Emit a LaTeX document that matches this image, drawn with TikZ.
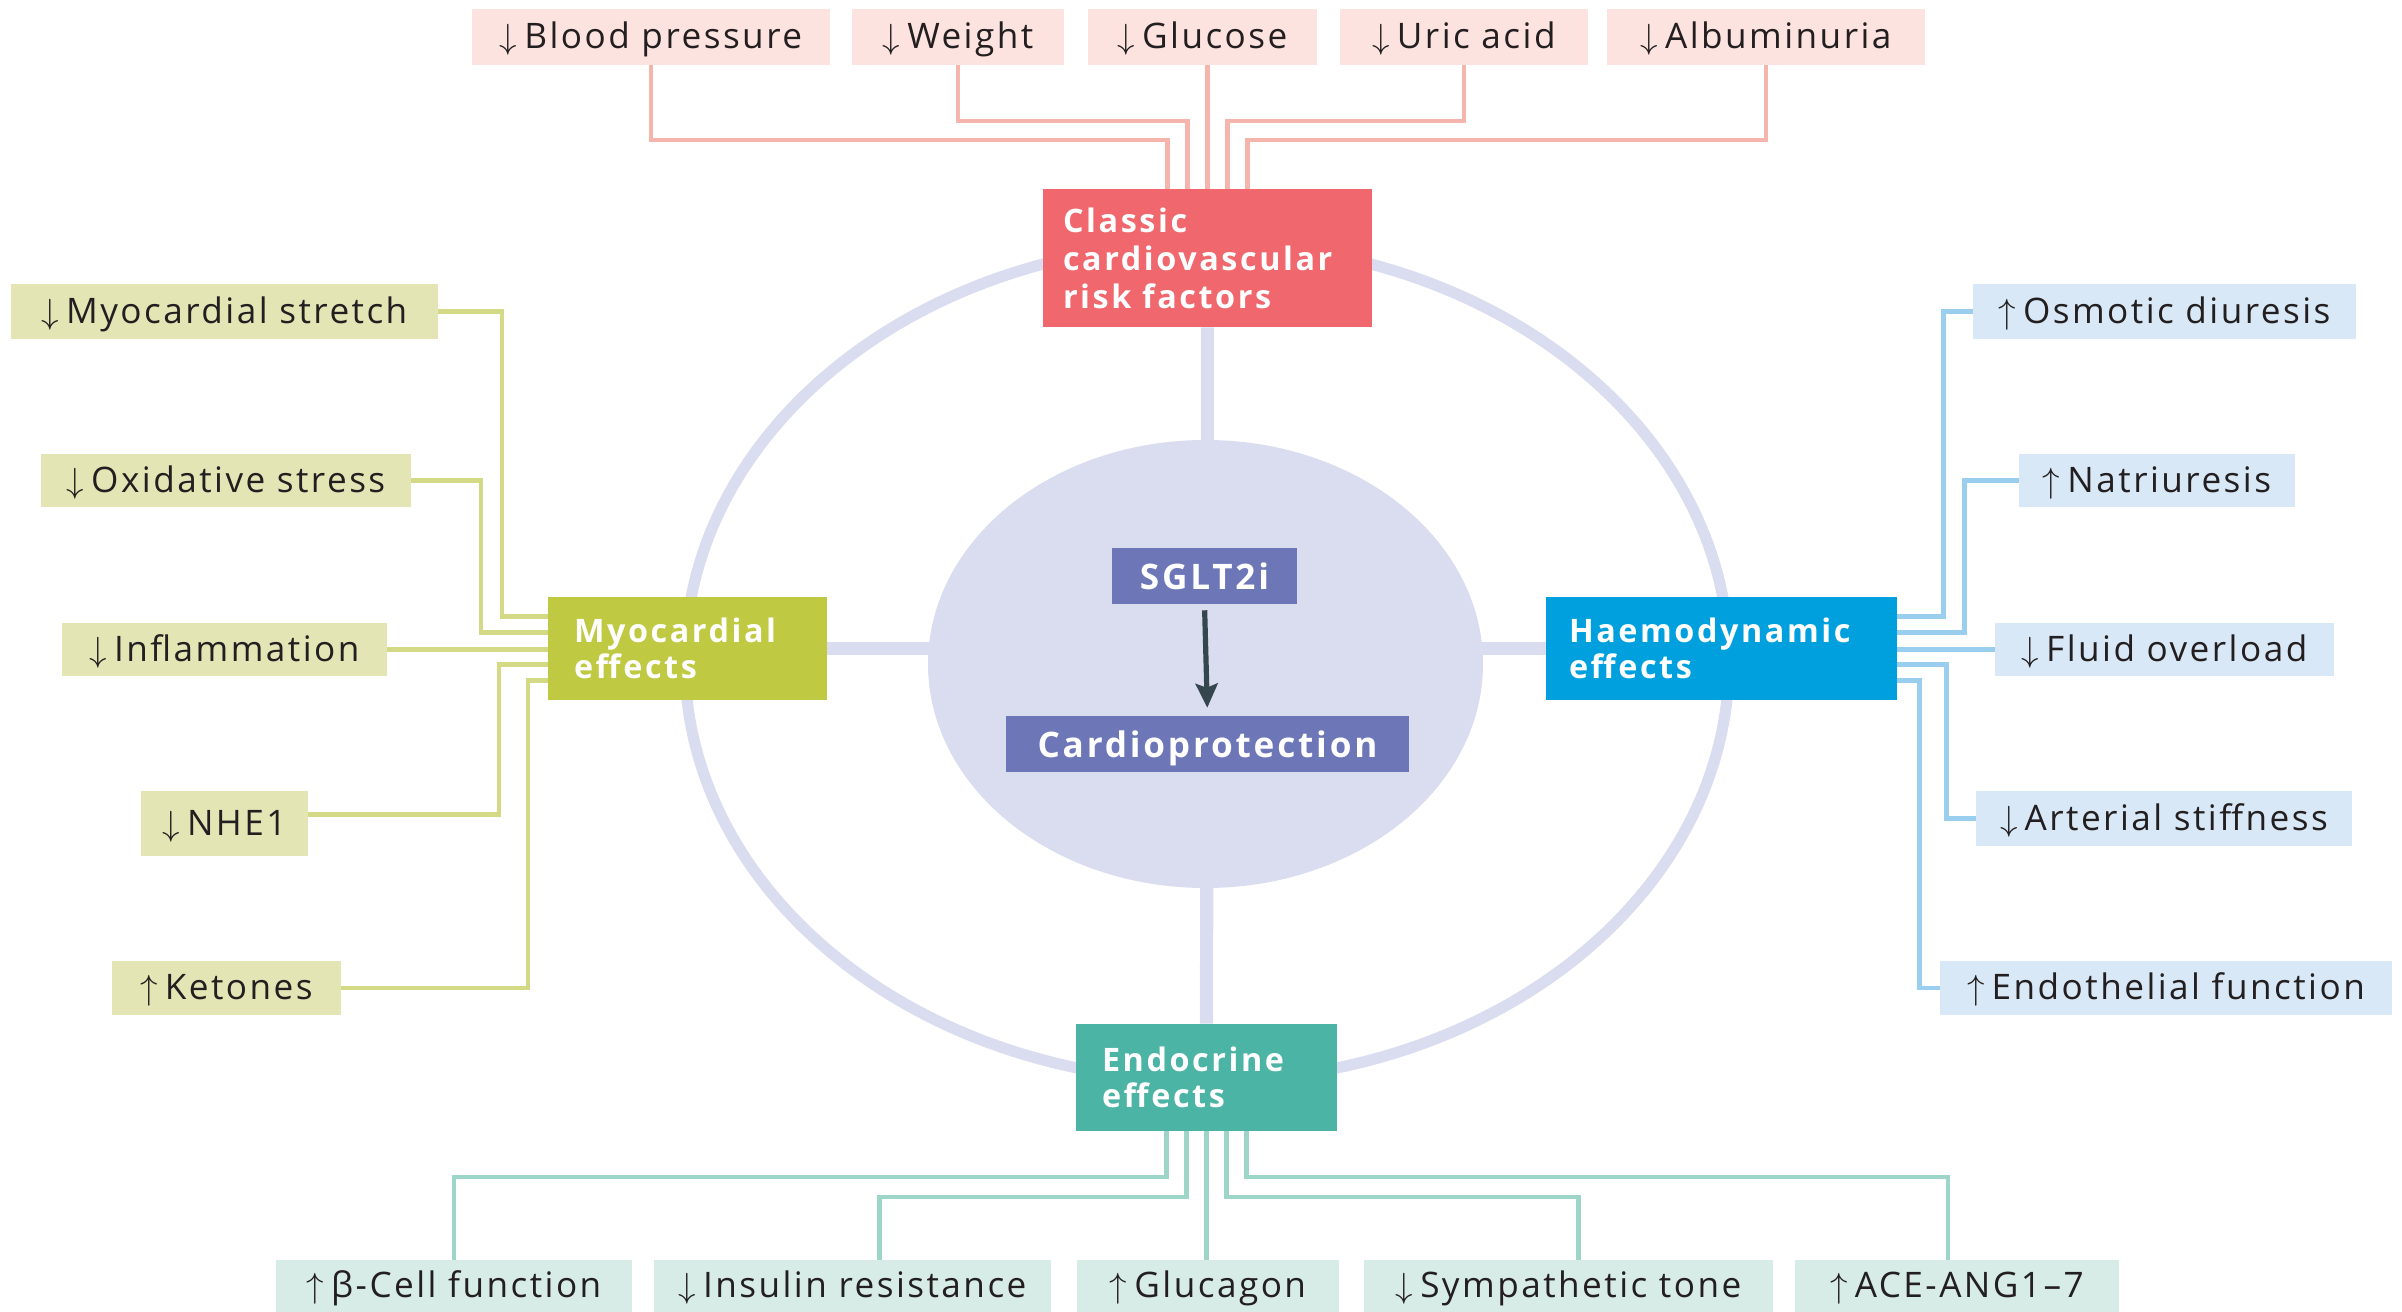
\documentclass[tikz,border=0pt]{standalone}
\usepackage{fontspec}
\setmainfont{Open Sans}[LetterSpace=7]
\newfontfamily\hdrfont{Open Sans}[LetterSpace=8]
\usetikzlibrary{arrows.meta,calc,shapes.geometric}
\definecolor{clsred}{HTML}{F0686D}
\definecolor{redfill}{HTML}{FDE3DF}
\definecolor{redline}{HTML}{F5B5AD}
\definecolor{myogrn}{HTML}{BFC942}
\definecolor{grnfill}{HTML}{E3E5B5}
\definecolor{grnline}{HTML}{D4D986}
\definecolor{haeblue}{HTML}{00A0DE}
\definecolor{blufill}{HTML}{D8E8F6}
\definecolor{bluline}{HTML}{9ACEEE}
\definecolor{endoteal}{HTML}{4BB4A5}
\definecolor{tealfill}{HTML}{D7ECE6}
\definecolor{tealline}{HTML}{9ED5C9}
\definecolor{sglpurple}{HTML}{6D77B8}
\definecolor{discol}{HTML}{DADCEF}
\definecolor{arrowc}{HTML}{36464F}
\definecolor{txtdark}{HTML}{231F20}
\newcommand{\lblfont}{\fontsize{25}{28}\selectfont}
\newcommand{\hdrsize}{\hdrfont\bfseries\fontsize{23}{25.5}\selectfont}
\newcommand{\clssize}{\hdrfont\bfseries\fontsize{23}{27}\selectfont}
\newcommand{\mkbox}[7]{%
  \pgfmathsetmacro\myBW{(#5-#3)*0.25}%
  \pgfmathsetmacro\myBH{(#6-#4)*0.25}%
  \node[#1, minimum width=\myBW mm, minimum height=\myBH mm] (#2) at ({(#3+#5)/2},{(#4+#6)/2}) {#7};}
\newcommand{\mkhdr}[8]{%
  \pgfmathsetmacro\myBW{(#5-#3-2*#7)*0.25}%
  \pgfmathsetmacro\myBH{(#6-#4)*0.25}%
  \pgfmathsetmacro\myPD{#7*0.25}%
  \node[#1, text width=\myBW mm, inner xsep=\myPD mm, minimum height=\myBH mm] (#2) at ({(#3+#5)/2},{(#4+#6)/2}) {#8};}
\newcommand{\dn}{{\fontsize{28}{30}\selectfont$\downarrow$}\hspace{0.2em}}
\newcommand{\upa}{{\fontsize{28}{30}\selectfont$\uparrow$}\hspace{0.2em}}
\begin{document}
\begin{tikzpicture}[x=0.25mm,y=-0.25mm,
  lbl/.style={inner sep=0pt, font=\lblfont, text=txtdark, text height=17pt, text depth=0pt},
  toplbl/.style={lbl, fill=redfill},
  grnlbl/.style={lbl, fill=grnfill},
  blulbl/.style={lbl, fill=blufill},
  teallbl/.style={lbl, fill=tealfill},
  hdr/.style={inner ysep=0pt, align=left, text=white, font=\hdrsize},
  cnct/.style={line width=1.1mm},
  redln/.style={cnct, draw=redline},
  grnln/.style={cnct, draw=grnline},
  bluln/.style={cnct, draw=bluline},
  tealln/.style={cnct, draw=tealline},
  spoke/.style={line width=3.3mm, draw=discol},
  core/.style={inner sep=0pt, fill=sglpurple, text=white, font=\hdrfont\bfseries\fontsize{25}{28}\selectfont, text height=19pt, text depth=0pt}
]
\useasboundingbox (0,0) rectangle (2402,1312);
% outer ring
\draw[discol, line width=2.8mm] (1207,662) ellipse [x radius=130.5mm, y radius=104.75mm];
% header box positions (drawn once first so the spokes can refer to them)
\mkhdr{hdr, fill=clsred, font=\clssize}{classic}{1043}{189}{1372}{327}{20}{Classic\\cardiovascular\\risk factors}
\mkhdr{hdr, fill=myogrn}{myo}{548}{597}{827}{700}{26}{Myocardial\\effects}
\mkhdr{hdr, fill=haeblue}{hae}{1546}{597}{1897}{700}{23}{Haemodynamic\\effects}
\mkhdr{hdr, fill=endoteal}{endo}{1076}{1024}{1337}{1131}{26}{Endocrine\\effects}
% spokes
\draw[spoke] (classic.south) -- (endo.north);
\draw[spoke] (myo.east) -- (hae.west);
% central disc
\node[ellipse, fill=discol, inner sep=0pt, minimum width=138.75mm, minimum height=112mm] (disc) at (1205.5,664) {};
\mkbox{core}{sglt}{1112}{548}{1297}{604}{SGLT2i}
\mkbox{core}{cardio}{1006}{716}{1409}{772}{Cardioprotection}
\draw[draw=arrowc, line width=1.3mm, -{Stealth[length=6mm,width=5.5mm,inset=1mm]}, shorten <=1.5mm, shorten >=2mm] (sglt.south) -- (cardio.north);
% top labels
\mkbox{toplbl}{tBP}{472}{9}{830}{65}{\dn Blood pressure}
\mkbox{toplbl}{tW}{852}{9}{1064}{65}{\dn Weight}
\mkbox{toplbl}{tG}{1088}{9}{1317}{65}{\dn Glucose}
\mkbox{toplbl}{tU}{1340}{9}{1588}{65}{\dn Uric acid}
\mkbox{toplbl}{tA}{1607}{9}{1925}{65}{\dn Albuminuria}
% left labels
\mkbox{grnlbl}{stretch}{11}{284}{438}{339}{\dn Myocardial stretch}
\mkbox{grnlbl}{oxid}{41}{454}{411}{507}{\dn Oxidative stress}
\mkbox{grnlbl}{infl}{62}{623}{387}{676}{\dn Inflammation}
\mkbox{grnlbl}{nhe}{141}{791}{308}{856}{\dn NHE1}
\mkbox{grnlbl}{ket}{112}{961}{341}{1015}{\upa Ketones}
% right labels
\mkbox{blulbl}{osm}{1973}{284}{2356}{339}{\upa Osmotic diuresis}
\mkbox{blulbl}{nat}{2019}{454}{2295}{507}{\upa Natriuresis}
\mkbox{blulbl}{flu}{1995}{623}{2334}{676}{\dn Fluid overload}
\mkbox{blulbl}{art}{1976}{791}{2352}{846}{\dn Arterial stiffness}
\mkbox{blulbl}{endoth}{1940}{961}{2392}{1015}{\upa Endothelial function}
% bottom labels
\mkbox{teallbl}{bcell}{276}{1260}{632}{1312}{\upa β-Cell function}
\mkbox{teallbl}{ins}{654}{1260}{1051}{1312}{\dn Insulin resistance}
\mkbox{teallbl}{glu}{1077}{1260}{1339}{1312}{\upa Glucagon}
\mkbox{teallbl}{symp}{1364}{1260}{1773}{1312}{\dn Sympathetic tone}
\mkbox{teallbl}{ace}{1795}{1260}{2119}{1312}{\upa ACE-ANG1–7}
% top connectors
\draw[redln] (tBP.south) |- ($(classic.north)+(-40,-49)$) -- ($(classic.north)+(-40,0)$);
\draw[redln] (tW.south) |- ($(classic.north)+(-20,-68)$) -- ($(classic.north)+(-20,0)$);
\draw[redln] (classic.north) -- (classic.north |- tG.south);
\draw[redln] (tU.south) |- ($(classic.north)+(20,-68)$) -- ($(classic.north)+(20,0)$);
\draw[redln] (tA.south) |- ($(classic.north)+(40,-49)$) -- ($(classic.north)+(40,0)$);
% left connectors
\draw[grnln] (stretch.east) -| ($(myo.west)+(-46,-32)$) -- ($(myo.west)+(0,-32)$);
\draw[grnln] (oxid.east) -| ($(myo.west)+(-67,-16)$) -- ($(myo.west)+(0,-16)$);
\draw[grnln] (infl.east) -- (infl.east -| myo.west);
\draw[grnln] ($(nhe.east)+(0,-9)$) -| ($(myo.west)+(-49,16)$) -- ($(myo.west)+(0,16)$);
\draw[grnln] (ket.east) -| ($(myo.west)+(-20,32)$) -- ($(myo.west)+(0,32)$);
% right connectors
\draw[bluln] (osm.west) -| ($(hae.east)+(46,-32)$) -- ($(hae.east)+(0,-32)$);
\draw[bluln] (nat.west) -| ($(hae.east)+(67,-16)$) -- ($(hae.east)+(0,-16)$);
\draw[bluln] (flu.west) -- (flu.west -| hae.east);
\draw[bluln] (art.west) -| ($(hae.east)+(49,16)$) -- ($(hae.east)+(0,16)$);
\draw[bluln] (endoth.west) -| ($(hae.east)+(22,32)$) -- ($(hae.east)+(0,32)$);
% bottom connectors
\draw[tealln] ($(endo.south)+(-40,0)$) -- ($(endo.south)+(-40,46)$) -| (bcell.north);
\draw[tealln] ($(endo.south)+(-20,0)$) -- ($(endo.south)+(-20,66)$) -| ($(ins.north)+(27,0)$);
\draw[tealln] (endo.south) -- (endo.south |- glu.north);
\draw[tealln] ($(endo.south)+(20,0)$) -- ($(endo.south)+(20,66)$) -| ($(symp.north)+(10,0)$);
\draw[tealln] ($(endo.south)+(40,0)$) -- ($(endo.south)+(40,46)$) -| ($(ace.north)+(-9,0)$);
% header boxes on top of the spokes
\mkhdr{hdr, fill=clsred, font=\clssize}{classic}{1043}{189}{1372}{327}{20}{Classic\\cardiovascular\\risk factors}
\mkhdr{hdr, fill=myogrn}{myo}{548}{597}{827}{700}{26}{Myocardial\\effects}
\mkhdr{hdr, fill=haeblue}{hae}{1546}{597}{1897}{700}{23}{Haemodynamic\\effects}
\mkhdr{hdr, fill=endoteal}{endo}{1076}{1024}{1337}{1131}{26}{Endocrine\\effects}
\end{tikzpicture}
\end{document}
